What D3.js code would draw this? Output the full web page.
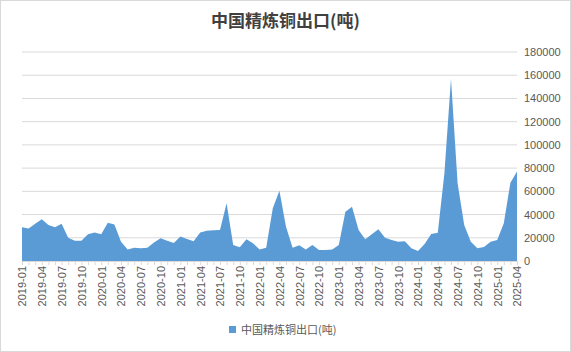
<!DOCTYPE html>
<html>
<head>
<meta charset="utf-8">
<script src="https://cdn.jsdelivr.net/npm/d3@7"></script>
<style>
  body { margin: 0; background: #fff; }
  svg { display: block; font-family: "Noto Sans CJK SC", "Noto Sans", sans-serif; }
</style>
</head>
<body>
<div id="chart"></div>
<script>
// monthly refined copper exports, tonnes
const months = [];
for (let y = 2019; y <= 2025; y++) {
    for (let m = 1; m <= 12; m++) {
        if (y === 2025 && m > 4) break;
        months.push(y + '-' + String(m).padStart(2, '0'));
    }
}
const exports2019 = [29000, 28000, 32000, 36000, 31000, 29000, 32000, 20000, 17500, 17500, 23000, 24500];
const exports2020 = [23000, 33000, 31500, 16500, 10000, 11500, 11000, 11500, 16000, 19500, 17500, 15500];
const exports2021 = [21000, 19000, 17000, 24500, 26000, 26500, 26700, 49700, 13800, 11800, 18700, 15200];
const exports2022 = [10000, 11500, 45400, 60600, 29600, 11500, 13500, 10000, 13800, 9500, 9500, 10000];
const exports2023 = [13800, 42500, 46800, 26700, 18700, 23000, 27300, 20100, 18100, 16600, 17000, 10900];
const exports2024 = [8600, 14600, 23300, 24400, 75600, 157000, 67000, 31000, 16600, 10900, 12000, 16600];
const exports2025 = [18000, 32500, 67500, 77000];
const values = [].concat(exports2019, exports2020, exports2021, exports2022, exports2023, exports2024, exports2025);
const yTicks = [0, 20000, 40000, 60000, 80000, 100000, 120000, 140000, 160000, 180000];
const seriesName = '中国精炼铜出口(吨)';

const width = 571, height = 352;
const margin = { top: 52, right: 54, bottom: 91, left: 22 };
const blue = '#5b9bd5';

const svg = d3.select('#chart').append('svg')
    .attr('width', width)
    .attr('height', height);

svg.append('rect')
    .attr('x', 0.5).attr('y', 0.5)
    .attr('width', width - 1).attr('height', height - 1)
    .attr('fill', '#fff')
    .attr('stroke', '#d9d9d9');

const x = d3.scalePoint()
    .domain(months)
    .range([margin.left, width - margin.right]);

const y = d3.scaleLinear()
    .domain([0, 180000])
    .range([height - margin.bottom, margin.top]);

// gridlines
svg.append('g')
    .selectAll('line')
    .data(yTicks.slice(1))
    .enter()
    .append('line')
    .attr('x1', margin.left)
    .attr('x2', width - margin.right)
    .attr('y1', d => y(d))
    .attr('y2', d => y(d))
    .attr('stroke', '#d9d9d9')
    .attr('stroke-width', 1);

const area = d3.area()
    .x((d, i) => x(months[i]))
    .y0(y(0))
    .y1(d => y(d));

svg.append('path')
    .datum(values)
    .attr('d', area)
    .attr('fill', blue);

// x axis
const xAxis = svg.append('g')
    .attr('transform', `translate(0, ${y(0)})`)
    .call(d3.axisBottom(x).tickSize(4).tickFormat((d, i) => i % 3 === 0 ? d : ''));
xAxis.select('.domain').attr('stroke', '#d9d9d9');
xAxis.selectAll('.tick line').attr('stroke', '#d9d9d9');
xAxis.selectAll('.tick text')
    .attr('fill', '#595959')
    .attr('font-size', 11)
    .attr('transform', 'rotate(-90)')
    .attr('text-anchor', 'end')
    .attr('x', -5)
    .attr('y', 0)
    .attr('dy', '0.35em');

// y axis on right
const yAxis = svg.append('g')
    .attr('transform', `translate(${width - margin.right}, 0)`)
    .call(d3.axisRight(y).tickValues(yTicks).tickSize(0).tickPadding(7).tickFormat(d3.format('d')));
yAxis.select('.domain').remove();
yAxis.selectAll('.tick text')
    .attr('fill', '#595959')
    .attr('font-size', 11);

// title
svg.append('text')
    .attr('x', width / 2)
    .attr('y', 27)
    .attr('text-anchor', 'middle')
    .attr('font-size', 17)
    .attr('font-weight', 'bold')
    .attr('fill', '#404040')
    .text(seriesName);

// legend
const legend = svg.append('g').attr('transform', 'translate(229, 330)');
legend.append('rect')
    .attr('x', 0).attr('y', -4)
    .attr('width', 7).attr('height', 7)
    .attr('fill', blue);
legend.append('text')
    .attr('x', 12)
    .attr('y', 0)
    .attr('dy', '0.35em')
    .attr('font-size', 11)
    .attr('fill', '#595959')
    .text(seriesName);
</script>
</body>
</html>
